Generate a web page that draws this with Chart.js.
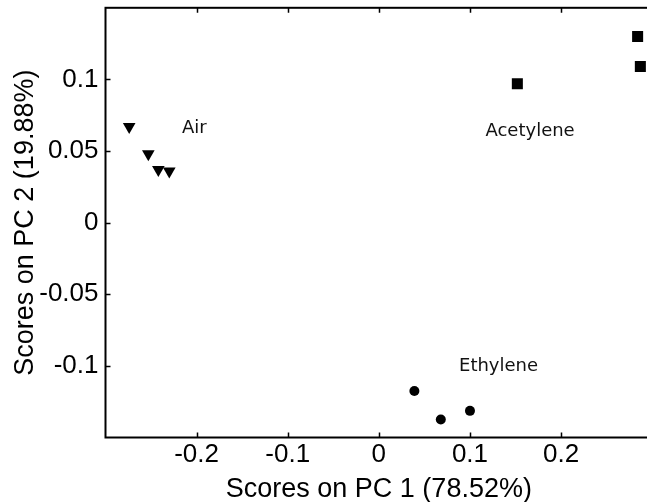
<!DOCTYPE html>
<html lang="en">
<head>
    <meta charset="UTF-8">
    <title>Scores on PC 1 / PC 2</title>
    <script src="https://cdn.jsdelivr.net/npm/chart.js@4.4.0/dist/chart.umd.min.js"></script>
    <style>
        html, body { margin: 0; padding: 0; background: #fff; overflow: hidden; }
    </style>
</head>
<body>
<canvas id="myChart" width="660" height="502"></canvas>

<script>
    // scores
    const airX = [-0.274, -0.253, -0.242, -0.230];
    const airY = [0.067, 0.048, 0.037, 0.036];
    const acetyleneX = [0.152, 0.284, 0.287];
    const acetyleneY = [0.097, 0.130, 0.109];
    const ethyleneX = [0.039, 0.068, 0.100];
    const ethyleneY = [-0.1175, -0.1374, -0.1314];

    const xTicks = [-0.2, -0.1, 0, 0.1, 0.2];
    const yTicks = [-0.1, -0.05, 0, 0.05, 0.1];

    // text labels next to each group (data coords)
    const groupNames = ['Air', 'Acetylene', 'Ethylene'];
    const labelX = [-0.216, 0.117, 0.088];
    const labelY = [0.066, 0.064, -0.1];

    function toPoints(xs, ys) {
        return xs.map(function (x, i) { return {x: x, y: ys[i]}; });
    }

    // no extra room for the end tick labels, the box sits where matlab put it
    function noPad(s) {
        s.paddingTop = 0; s.paddingBottom = 0;
        s.paddingLeft = 0; s.paddingRight = 0;
    }

    // matlab-like box with inward ticks + group names
    const frame = {
        id: 'frame',
        afterDatasetsDraw(chart) {
            const ctx = chart.ctx;
            const a = chart.chartArea;
            const sx = chart.scales.x, sy = chart.scales.y;
            ctx.save();
            ctx.strokeStyle = '#000';
            ctx.lineWidth = 2;
            ctx.strokeRect(a.left, a.top, a.right - a.left, a.bottom - a.top);
            ctx.beginPath();
            xTicks.forEach(function (v) {
                const px = Math.round(sx.getPixelForValue(v)) + 0.5;
                ctx.moveTo(px, a.bottom); ctx.lineTo(px, a.bottom - 5);
                ctx.moveTo(px, a.top); ctx.lineTo(px, a.top + 5);
            });
            yTicks.forEach(function (v) {
                const py = Math.round(sy.getPixelForValue(v)) + 0.5;
                ctx.moveTo(a.left, py); ctx.lineTo(a.left + 5, py);
                ctx.moveTo(a.right, py); ctx.lineTo(a.right - 5, py);
            });
            ctx.lineWidth = 1.5;
            ctx.stroke();

            ctx.fillStyle = '#111';
            ctx.font = '18px "DejaVu Sans"';
            ctx.textAlign = 'left';
            ctx.textBaseline = 'middle';
            groupNames.forEach(function (name, i) {
                ctx.fillText(name, sx.getPixelForValue(labelX[i]), sy.getPixelForValue(labelY[i]));
            });
            ctx.restore();
        }
    };

    const tickFont = {family: '"Liberation Sans", Arial, sans-serif', size: 26};
    const titleFont = {family: '"Liberation Sans", Arial, sans-serif', size: 27, lineHeight: 0.9};

    const ctx = document.getElementById('myChart').getContext('2d');
    const myChart = new Chart(ctx, {
        type: 'scatter',
        data: {
            datasets: [{
                label: groupNames[0],
                data: toPoints(airX, airY),
                pointStyle: 'triangle',
                rotation: 180,
                radius: 7.3,
                backgroundColor: '#000',
                borderColor: '#000',
                borderWidth: 0
            }, {
                label: groupNames[1],
                data: toPoints(acetyleneX, acetyleneY),
                pointStyle: 'rect',
                radius: 7.8,
                backgroundColor: '#000',
                borderColor: '#000',
                borderWidth: 0
            }, {
                label: groupNames[2],
                data: toPoints(ethyleneX, ethyleneY),
                pointStyle: 'circle',
                radius: 5,
                backgroundColor: '#000',
                borderColor: '#000',
                borderWidth: 0
            }]
        },
        options: {
            responsive: false,
            animation: false,
            layout: {padding: {left: 0, top: 5.5, right: 6.5, bottom: 0}},
            plugins: {
                legend: {display: false},
                tooltip: {enabled: false}
            },
            scales: {
                x: {
                    type: 'linear',
                    min: -0.3,
                    max: 0.3,
                    afterBuildTicks: function (s) { s.ticks = xTicks.map(function (v) { return {value: v}; }); },
                    afterFit: function (s) { s.height = 64.5; noPad(s); },
                    grid: {display: false, drawTicks: false},
                    border: {display: false},
                    ticks: {color: '#000', font: tickFont, padding: 2, maxRotation: 0,
                        callback: function (v) { return String(Math.round(v * 100) / 100); }},
                    title: {display: true, text: 'Scores on PC 1 (78.52%)', color: '#000', font: titleFont, padding: {top: 0, bottom: 0}}
                },
                y: {
                    type: 'linear',
                    min: -0.15,
                    max: 0.15,
                    afterBuildTicks: function (s) { s.ticks = yTicks.map(function (v) { return {value: v}; }); },
                    afterFit: function (s) { s.width = 105.5; noPad(s); },
                    grid: {display: false, drawTicks: false},
                    border: {display: false},
                    ticks: {color: '#000', font: tickFont, padding: 7,
                        callback: function (v) { return String(Math.round(v * 100) / 100); }},
                    title: {display: true, text: 'Scores on PC 2 (19.88%)', color: '#000', font: titleFont, padding: {top: 13, bottom: 0}}
                }
            }
        },
        plugins: [frame]
    });
</script>
</body>
</html>
